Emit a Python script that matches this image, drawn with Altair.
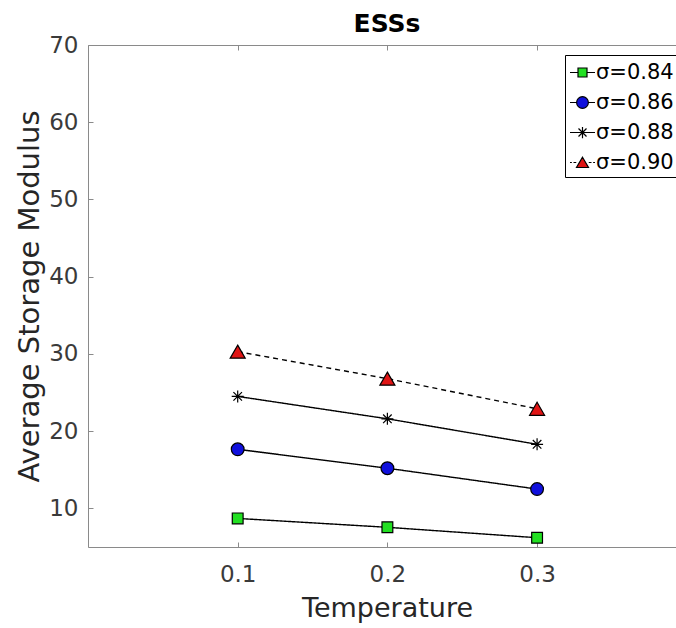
import altair as alt
import pandas as pd

# ---- data ----
temperature = [0.1, 0.2, 0.3]
sigma_labels = ["σ=0.84", "σ=0.86", "σ=0.88", "σ=0.90"]
s084 = [8.7, 7.55, 6.2]
s086 = [17.65, 15.2, 12.5]
s088 = [24.5, 21.6, 18.3]
s090 = [30.3, 26.8, 22.9]
marker_colors = ["#22e022", "#1010dd", "#000000", "#e01515"]
x_ticks = [0.1, 0.2, 0.3]
y_ticks = [10, 20, 30, 40, 50, 60, 70]

rows = []
for lab, vals in zip(sigma_labels, [s084, s086, s088, s090]):
    for t, v in zip(temperature, vals):
        rows.append({"T": t, "M": v, "series": lab})
df = pd.DataFrame(rows)

FONT = "DejaVu Sans"
AXC = "#8a8a8a"

# marker shapes in the plot (custom paths in [-1,1] box)
plot_paths = [
    "M-0.72,-0.72H0.72V0.72H-0.72Z",
    "M0.85,0A0.85,0.85,0,1,1,-0.85,0A0.85,0.85,0,1,1,0.85,0Z",
    "M0,-0.8V0.8M-0.8,0H0.8M-0.57,-0.57L0.57,0.57M-0.57,0.57L0.57,-0.57",
    "M0,-0.87L1,0.87L-1,0.87Z",
]
# legend symbols: short line with marker
legend_paths = [
    "M-1,0H-0.36M0.36,0H1M-0.36,-0.36H0.36V0.36H-0.36Z",
    "M-1,0H-0.47M0.47,0H1M0.47,0A0.47,0.47,0,1,1,-0.47,0A0.47,0.47,0,1,1,0.47,0Z",
    "M-1,0H1M0,-0.45V0.45M-0.32,-0.32L0.32,0.32M-0.32,0.32L0.32,-0.32",
    "M-1,0H-0.85M-0.72,0H-0.5M0.5,0H0.72M0.85,0H1M0,-0.42L0.48,0.4L-0.48,0.4Z",
]

x_scale = alt.Scale(domain=[0, 0.3928], nice=False, zero=False)
y_scale = alt.Scale(domain=[5, 70], nice=False, zero=False)

# main axes (domain line, labels, titles; no ticks)
bottom_axis = alt.Axis(
    orient="bottom", values=x_ticks, format=".1f", title="Temperature", grid=False,
    ticks=False, labelPadding=16, labelFontSize=23, labelFont=FONT, labelColor="#3a3a3a",
    domainColor=AXC,
    titleFont=FONT, titleFontSize=27, titleFontWeight="normal", titleColor="#262626",
    titleX=299, titleY=69, titleAlign="center", titleBaseline="alphabetic", titleAngle=0,
)
left_axis = alt.Axis(
    orient="left", values=y_ticks, title="Average Storage Modulus", grid=False,
    ticks=False, labelPadding=10, labelFontSize=23, labelFont=FONT, labelColor="#3a3a3a",
    domainColor=AXC,
    titleFont=FONT, titleFontSize=29, titleFontWeight="normal", titleColor="#262626",
    titleX=-50, titleY=251, titleAlign="center", titleBaseline="alphabetic", titleAngle=270,
)
top_axis = alt.Axis(orient="top", values=x_ticks, labels=False, ticks=False, title=None,
                    grid=False, domainColor=AXC)


def tick_axis(orient, vals):
    # inward tick marks only
    return alt.Axis(orient=orient, values=vals, labels=False, domain=False, title=None,
                    grid=False, offset=-5, tickSize=5, tickColor=AXC, tickWidth=1)


lines = alt.Chart(df).mark_line(color="black", strokeWidth=1.4).encode(
    x=alt.X("T:Q", scale=x_scale, axis=bottom_axis),
    y=alt.Y("M:Q", scale=y_scale, axis=left_axis),
    detail="series:N",
    strokeDash=alt.StrokeDash(
        "series:N",
        scale=alt.Scale(domain=sigma_labels, range=[[1, 0], [1, 0], [1, 0], [5, 4]]),
        legend=None,
    ),
)

points = alt.Chart(df).mark_point(
    filled=True, opacity=1, stroke="black", strokeWidth=1.2, size=225
).encode(
    x=alt.X("T:Q", scale=x_scale, axis=top_axis),
    y=alt.Y("M:Q", scale=y_scale, axis=tick_axis("left", y_ticks)),
    shape=alt.Shape("series:N", scale=alt.Scale(domain=sigma_labels, range=plot_paths), legend=None),
    color=alt.Color("series:N", scale=alt.Scale(domain=sigma_labels, range=marker_colors), legend=None),
)

leg = alt.Legend(
    title=None, orient="none", legendX=477, legendY=10,
    fillColor="white", strokeColor="black", padding=4, cornerRadius=0,
    symbolSize=625, symbolStrokeWidth=1.2, symbolStrokeColor="black",
    labelFont=FONT, labelFontSize=21, labelColor="black", labelOffset=0,
    rowPadding=6,
)
legend_layer = alt.Chart(df).transform_filter("false").mark_point(
    filled=True, opacity=1, stroke="black", strokeWidth=1.2
).encode(
    x=alt.X("T:Q", scale=x_scale, axis=tick_axis("bottom", x_ticks)),
    y=alt.Y("M:Q", scale=y_scale, axis=None),
    shape=alt.Shape("series:N", scale=alt.Scale(domain=sigma_labels, range=legend_paths), legend=leg),
    color=alt.Color("series:N", scale=alt.Scale(domain=sigma_labels, range=marker_colors), legend=leg),
)

top_ticks = alt.Chart(df).transform_filter("false").mark_point(opacity=0).encode(
    x=alt.X("T:Q", scale=x_scale, axis=tick_axis("top", x_ticks)),
    y=alt.Y("M:Q", scale=y_scale, axis=None),
)

chart = (
    alt.layer(lines, points, legend_layer, top_ticks)
    .resolve_scale(shape="independent", color="independent", strokeDash="independent")
    .resolve_axis(x="independent", y="independent")
    .properties(
        width=588,
        height=502,
        padding={"left": 88, "top": 45, "right": 0, "bottom": 81},
        autosize=alt.AutoSizeParams(type="none"),
        title=alt.TitleParams(
            "ESSs", font=FONT, fontSize=25, fontWeight="bold", color="black",
            anchor="middle", frame="group", orient="top", dx=5, offset=0, dy=3,
        ),
    )
    .configure_view(stroke=None)
    .configure(background="white")
)

chart.save("out.html", embed_options={"renderer": "svg", "actions": False})
